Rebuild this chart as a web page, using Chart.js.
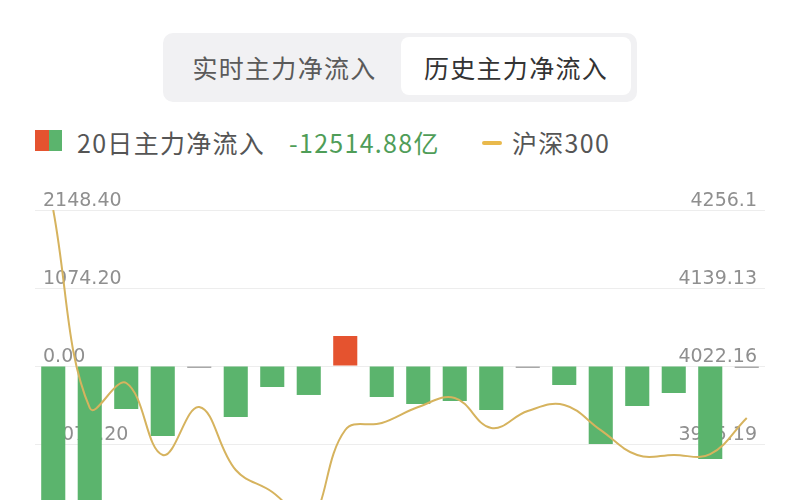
<!DOCTYPE html>
<html><head><meta charset="utf-8">
<script src="https://cdn.jsdelivr.net/npm/chart.js@4.4.1/dist/chart.umd.min.js"></script>
<style>
html,body{margin:0;padding:0;background:#fff;width:800px;height:500px;overflow:hidden;position:relative;font-family:"Noto Sans CJK SC","Noto Sans",sans-serif;}
#tabs{position:absolute;left:163px;top:33px;width:474px;height:69px;background:#f1f1f3;border-radius:10px;}
#tabActive{position:absolute;left:238px;top:4px;width:230px;height:58px;background:#fff;border-radius:8px;}
.tab{position:absolute;top:0;height:69px;line-height:69px;font-size:25px;letter-spacing:1.3px;white-space:nowrap;text-align:center;}
.lg{position:absolute;top:127px;height:30px;line-height:30px;font-size:25px;letter-spacing:1.3px;white-space:nowrap;color:#555;}
#wrap{position:absolute;left:0;top:170px;width:800px;height:375px;}
</style></head>
<body>
<div id="tabs">
  <div id="tabActive"></div>
  <div class="tab" style="left:0;width:243px;color:#5a5a5a;">实时主力净流入</div>
  <div class="tab" style="left:238px;width:230px;color:#333;">历史主力净流入</div>
</div>
<div style="position:absolute;left:35px;top:130px;width:27px;height:21px;background:linear-gradient(to right,#e5532f 50%,#5bb46d 50%);"></div>
<div class="lg" style="left:77px;">20日主力净流入</div>
<div class="lg" style="left:289px;color:#4f9d58;">-12514.88亿</div>
<div style="position:absolute;left:482px;top:141px;width:20px;height:4px;background:#e9b94c;border-radius:2px;"></div>
<div class="lg" style="left:512px;">沪深300</div>
<div id="wrap"><canvas id="c" width="800" height="375"></canvas></div>
<script>
const categories = ['1','2','3','4','5','6','7','8','9','10','11','12','13','14','15','16','17','18','19','20'];
const netInflow = [-2148.40, -2105, -592, -964, -8, -702, -289, -399, 413, -427, -523, -482, -606, -8, -262, -1074, -551, -372, -1281, -8];
const hs300 = [4256.1, 3959.2, 3996.7, 3888.7, 3960.7, 3866.2, 3833.2, 3788.22, 3926.2, 3936.7, 3960.7, 3974.2, 3929.2, 3954.7, 3963.7, 3926.0, 3888.7, 3888.7, 3890.0, 3944.2];
const leftTicks = [-2148.40, -1074.20, 0, 1074.20, 2148.40];
const leftTickLabels = ['-2148.40', '-1074.20', '0.00', '1074.20', '2148.40'];
const rightTicks = [3788.22, 3905.19, 4022.16, 4139.13, 4256.1];
const rightTickLabels = ['3788.22', '3905.19', '4022.16', '4139.13', '4256.1'];

const tickFont = {family: 'DejaVu Sans', size: 19};
const tickColor = '#8f8f8f';

new Chart(document.getElementById('c'), {
  data: {
    labels: categories,
    datasets: [
      {
        type: 'line', label: '沪深300', data: hs300, yAxisID: 'y1', order: 0,
        borderColor: '#d6b35e', borderWidth: 2, pointRadius: 0, tension: 0.4, fill: false
      },
      {
        type: 'bar', label: '20日主力净流入', data: netInflow, yAxisID: 'y', order: 1,
        backgroundColor: ctx => {
          const v = ctx.raw;
          if (Math.abs(v) < 20) return '#a8a8a8';
          return v >= 0 ? '#e5532f' : '#5bb46d';
        },
        barPercentage: 0.66, categoryPercentage: 1, minBarLength: 2
      }
    ]
  },
  options: {
    responsive: false, animation: false, devicePixelRatio: 1,
    layout: {padding: {left: 19, right: 35, top: 40, bottom: 23}},
    plugins: {legend: {display: false}, tooltip: {enabled: false}},
    scales: {
      x: {display: false, offset: true, grid: {display: false}},
      y: {
        position: 'left', min: leftTicks[0], max: leftTicks[leftTicks.length - 1],
        afterBuildTicks: s => { s.ticks = leftTicks.map(v => ({value: v})); },
        border: {display: false},
        grid: {color: '#ededed', lineWidth: 1, drawTicks: false},
        ticks: {mirror: true, padding: 8, labelOffset: -9, font: tickFont, color: tickColor,
          callback: (v, i) => leftTickLabels[i]}
      },
      y1: {
        position: 'right', min: rightTicks[0], max: rightTicks[rightTicks.length - 1],
        afterBuildTicks: s => { s.ticks = rightTicks.map(v => ({value: v})); },
        border: {display: false},
        grid: {display: false, drawTicks: false},
        ticks: {mirror: true, padding: -8, labelOffset: -9, font: tickFont, color: tickColor,
          callback: (v, i) => rightTickLabels[i]}
      }
    }
  }
});
</script>
</body></html>
